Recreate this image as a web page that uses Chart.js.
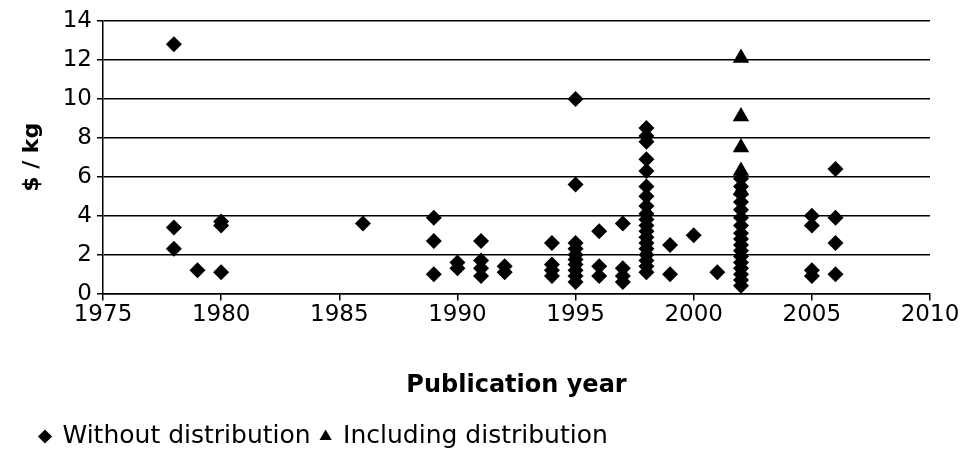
<!DOCTYPE html>
<html>
<head>
<meta charset="utf-8">
<script src="https://cdn.jsdelivr.net/npm/chart.js@4.4.1/dist/chart.umd.min.js"></script>
<style>
  html, body { margin: 0; padding: 0; background: #fff; }
  #wrap { width: 962px; height: 456px; }
</style>
</head>
<body>
<div id="wrap"><canvas id="c" width="962" height="456"></canvas></div>
<script>
// ---- Data ----
const withoutYears = [
  1978, 1978, 1978,
  1979,
  1980, 1980, 1980,
  1986,
  1989, 1989, 1989,
  1990, 1990,
  1991, 1991, 1991, 1991,
  1992, 1992,
  1994, 1994, 1994, 1994,
  1995, 1995, 1995, 1995, 1995, 1995, 1995, 1995, 1995, 1995,
  1996, 1996, 1996,
  1997, 1997, 1997, 1997,
  1998, 1998, 1998, 1998, 1998, 1998, 1998, 1998, 1998, 1998, 1998, 1998, 1998, 1998, 1998, 1998, 1998, 1998, 1998,
  1999, 1999,
  2000,
  2001,
  2002, 2002, 2002, 2002, 2002, 2002, 2002, 2002, 2002, 2002, 2002, 2002, 2002, 2002, 2002, 2002, 2002,
  2005, 2005, 2005, 2005,
  2006, 2006, 2006, 2006
];
const withoutValues = [
  12.8, 3.4, 2.3,
  1.2,
  3.7, 3.5, 1.1,
  3.6,
  3.9, 2.7, 1.0,
  1.6, 1.3,
  2.7, 1.7, 1.3, 0.9,
  1.4, 1.1,
  2.6, 1.5, 1.2, 0.9,
  10.0, 5.6, 2.6, 2.3, 2.0, 1.75, 1.5, 1.2, 0.9, 0.6,
  3.2, 1.4, 0.9,
  3.6, 1.3, 0.9, 0.6,
  8.5, 8.1, 7.8, 6.9, 6.3, 5.5, 5.0, 4.5, 4.1, 3.8, 3.5, 3.2, 2.9, 2.6, 2.3, 2.0, 1.7, 1.4, 1.1,
  2.5, 1.0,
  3.0,
  1.1,
  5.9, 5.5, 5.1, 4.7, 4.3, 3.9, 3.5, 3.1, 2.8, 2.5, 2.2, 1.9, 1.6, 1.3, 1.0, 0.7, 0.4,
  4.0, 3.5, 1.2, 0.9,
  6.4, 3.9, 2.6, 1.0
];
const includingYears  = [2002, 2002, 2002, 2002, 2002];
const includingValues = [12.1, 9.1, 7.5, 6.3, 5.3];

const xTickValues = [1975, 1980, 1985, 1990, 1995, 2000, 2005, 2010];
const yTickValues = [0, 2, 4, 6, 8, 10, 12, 14];

const seriesNames = ['Without distribution', 'Including distribution'];
const xTitle = 'Publication year';
const yTitle = '$ / kg';

// ---- Build points ----
const toPoints = (xs, ys) => xs.map((x, i) => ({ x: x, y: ys[i] }));

const FONT = 'DejaVu Sans';

const legendShift = {
  id: 'legendShift',
  afterLayout(chart) {
    if (chart.legend) {
      chart.legend.left += 30;
      chart.legend.right += 30;
      chart.legend.top += 3;
      chart.legend.bottom += 3;
    }
  }
};

new Chart(document.getElementById('c'), {
  type: 'scatter',
  data: {
    datasets: [
      {
        label: seriesNames[0],
        data: toPoints(withoutYears, withoutValues),
        pointStyle: 'rectRot',
        pointRadius: 8,
        pointHoverRadius: 8,
        backgroundColor: '#000',
        borderColor: '#000',
        borderWidth: 0
      },
      {
        label: seriesNames[1],
        data: toPoints(includingYears, includingValues),
        pointStyle: 'triangle',
        pointRadius: 9.5,
        pointHoverRadius: 9.5,
        backgroundColor: '#000',
        borderColor: '#000',
        borderWidth: 0
      }
    ]
  },
  options: {
    responsive: false,
    animation: false,
    devicePixelRatio: 1,
    layout: { padding: { top: 21, right: 32, bottom: 0, left: 0 } },
    plugins: {
      tooltip: { enabled: false },
      legend: {
        position: 'bottom',
        align: 'start',
        labels: {
          usePointStyle: true,
          boxWidth: 10,
          boxHeight: 10,
          padding: 10,
          color: '#000',
          font: { family: FONT, size: 25 }
        }
      }
    },
    scales: {
      x: {
        type: 'linear',
        min: 1975,
        max: 2010,
        afterBuildTicks: (s) => { s.ticks = xTickValues.map(v => ({ value: v })); },
        ticks: {
          color: '#000',
          font: { family: FONT, size: 23 },
          padding: 1,
          maxRotation: 0,
          callback: (v) => String(v)
        },
        grid: {
          drawOnChartArea: false,
          drawTicks: true,
          tickLength: 7,
          color: '#000',
          lineWidth: 1.5
        },
        border: { display: true, color: '#000', width: 1.5 },
        title: {
          display: true,
          text: xTitle,
          color: '#000',
          font: { family: FONT, size: 24, weight: 'bold' },
          padding: { top: 41, bottom: 11 }
        }
      },
      y: {
        type: 'linear',
        min: 0,
        max: 14,
        afterBuildTicks: (s) => { s.ticks = yTickValues.map(v => ({ value: v })); },
        afterFit: (s) => { s.width = 103; },
        ticks: {
          color: '#000',
          font: { family: FONT, size: 23 },
          padding: 5,
          callback: (v) => String(v)
        },
        grid: {
          color: '#000',
          lineWidth: 1.5,
          drawTicks: true,
          tickLength: 6
        },
        border: { display: true, color: '#000', width: 1.5 },
        title: {
          display: true,
          text: yTitle,
          color: '#000',
          font: { family: FONT, size: 22, weight: 'bold' },
          padding: { top: 19, bottom: 0 }
        }
      }
    }
  },
  plugins: [legendShift]
});
</script>
</body>
</html>
